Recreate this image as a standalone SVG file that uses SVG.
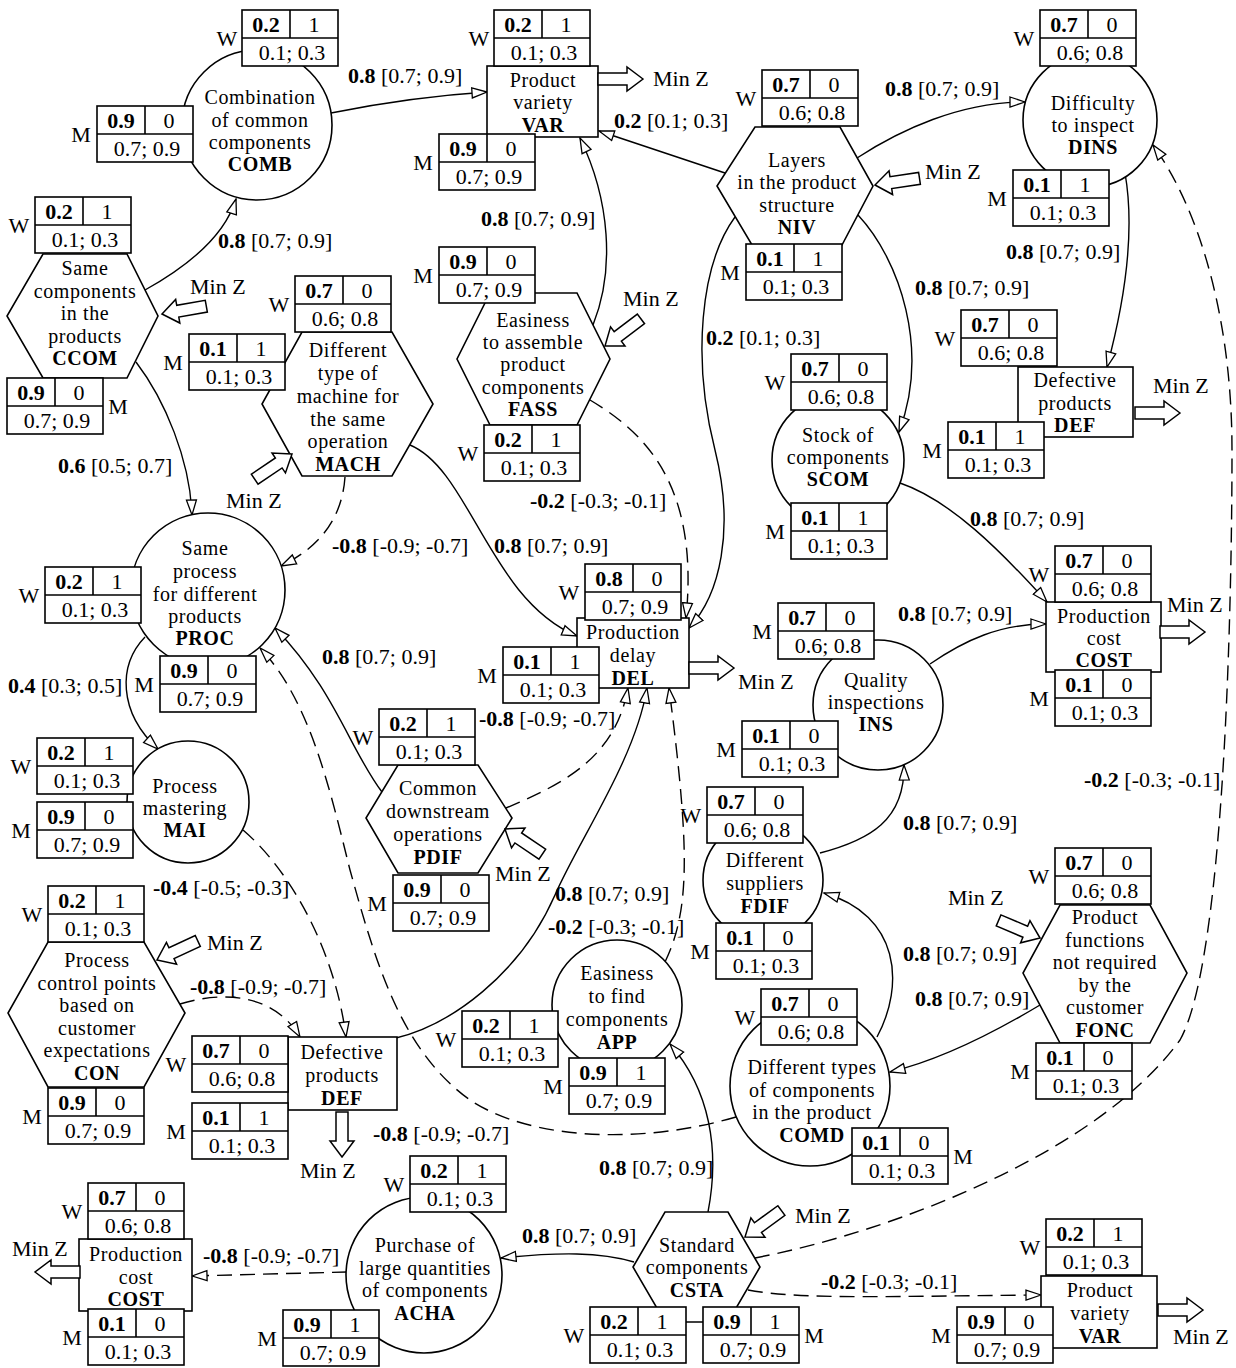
<svg xmlns="http://www.w3.org/2000/svg" width="1236" height="1368" viewBox="0 0 1236 1368">
<defs>
<style>
text{font-family:"Liberation Serif","Times New Roman",serif;font-size:22px;text-anchor:middle;dominant-baseline:central;fill:#000}
.n text{font-size:20px;letter-spacing:0.6px}
.b{font-weight:bold}
.s{text-anchor:start}
.sh{fill:#fff;stroke:#000;stroke-width:1.6}
.t rect{fill:#fff;stroke:#000;stroke-width:1.6}
.t path{fill:none;stroke:#000;stroke-width:1.6}
.c{fill:none;stroke:#000;stroke-width:1.4;marker-end:url(#ah)}
.d{stroke-dasharray:15 8}
.mz{fill:#fff;stroke:#000;stroke-width:1.5}
</style>
<marker id="ah" markerWidth="17" markerHeight="13" refX="16" refY="6.5" orient="auto" markerUnits="userSpaceOnUse"><path d="M1,1.5 L16,6.5 L1,11.5 Z" fill="#fff" stroke="#000" stroke-width="1.3" stroke-dasharray="none"/></marker>
<path id="blk" d="M0,0 L-16,-12 L-16,-6 L-45,-6 L-45,6 L-16,6 L-16,12 Z"/>
</defs>
<rect width="1236" height="1368" fill="#fff"/>

<g id="connectors">
<path class="c" d="M145,290 C190,265 225,235 236,199"/>
<path class="c" d="M331,113 Q410,97 487,92"/>
<path class="c" d="M136,362 C165,400 190,460 192,515"/>
<path class="c d" d="M345,477 C342,520 318,548 281,566"/>
<path class="c" d="M410,445 C470,470 490,600 577,636"/>
<path class="c" d="M593,325 C615,270 610,200 580,138"/>
<path class="c d" d="M590,400 C640,430 700,480 686,618"/>
<path class="c" d="M725,173 L599,131"/>
<path class="c" d="M735,217 C700,265 692,360 715,450 C735,530 720,595 689,628"/>
<path class="c" d="M857,158 C900,130 960,102 1025,102"/>
<path class="c" d="M858,215 C900,260 930,350 899,432"/>
<path class="c" d="M1125,173 C1135,230 1125,300 1107,367"/>
<path class="c" d="M900,483 C950,500 1000,550 1047,602"/>
<path class="c" d="M930,664 C965,640 1000,624 1046,624"/>
<path class="c" d="M820,853 C870,840 905,820 904,765"/>
<path class="c" d="M877,1037 C905,985 900,915 824,893"/>
<path class="c" d="M1040,1005 C990,1035 940,1060 890,1072"/>
<path class="c" d="M708,1212 C720,1150 710,1090 670,1044"/>
<path class="c" d="M634,1262 C600,1252 560,1252 501,1258"/>
<path class="c d" d="M347,1272 L192,1276"/>
<path class="c d" d="M748,1290 C800,1300 900,1296 1041,1295"/>
<path class="c d" d="M755,1258 C900,1230 1100,1150 1180,1040 C1225,960 1232,600 1232,450 C1232,320 1200,210 1153,145"/>
<path class="c d" d="M665,962 C690,910 690,850 669,688"/>
<path class="c" d="M396,1038 C450,1025 520,975 555,895 C580,838 635,760 647,688"/>
<path class="c d" d="M736,1117 C640,1145 530,1140 470,1100 C400,1050 375,960 350,870 C330,790 310,700 260,648"/>
<path class="c d" d="M180,1004 C225,990 275,995 300,1037"/>
<path class="c d" d="M243,830 C290,870 335,950 346,1037"/>
<path class="c" d="M145,637 C118,665 118,712 158,749"/>
<path class="c" d="M382,792 C350,750 335,690 275,628"/>
<path class="c d" d="M506,808 C560,785 615,760 628,688"/>

<text class="s" x="218" y="240"><tspan class="b">0.8</tspan> [0.7; 0.9]</text>
<text class="s" x="348" y="75"><tspan class="b">0.8</tspan> [0.7; 0.9]</text>
<text class="s" x="58" y="465"><tspan class="b">0.6</tspan> [0.5; 0.7]</text>
<text class="s" x="332" y="545"><tspan class="b">-0.8</tspan> [-0.9; -0.7]</text>
<text class="s" x="494" y="545"><tspan class="b">0.8</tspan> [0.7; 0.9]</text>
<text class="s" x="481" y="218"><tspan class="b">0.8</tspan> [0.7; 0.9]</text>
<text class="s" x="530" y="500"><tspan class="b">-0.2</tspan> [-0.3; -0.1]</text>
<text class="s" x="614" y="120"><tspan class="b">0.2</tspan> [0.1; 0.3]</text>
<text class="s" x="706" y="337"><tspan class="b">0.2</tspan> [0.1; 0.3]</text>
<text class="s" x="885" y="88"><tspan class="b">0.8</tspan> [0.7; 0.9]</text>
<text class="s" x="915" y="287"><tspan class="b">0.8</tspan> [0.7; 0.9]</text>
<text class="s" x="1006" y="251"><tspan class="b">0.8</tspan> [0.7; 0.9]</text>
<text class="s" x="970" y="518"><tspan class="b">0.8</tspan> [0.7; 0.9]</text>
<text class="s" x="898" y="613"><tspan class="b">0.8</tspan> [0.7; 0.9]</text>
<text class="s" x="903" y="822"><tspan class="b">0.8</tspan> [0.7; 0.9]</text>
<text class="s" x="903" y="953"><tspan class="b">0.8</tspan> [0.7; 0.9]</text>
<text class="s" x="915" y="998"><tspan class="b">0.8</tspan> [0.7; 0.9]</text>
<text class="s" x="599" y="1167"><tspan class="b">0.8</tspan> [0.7; 0.9]</text>
<text class="s" x="522" y="1235"><tspan class="b">0.8</tspan> [0.7; 0.9]</text>
<text class="s" x="203" y="1255"><tspan class="b">-0.8</tspan> [-0.9; -0.7]</text>
<text class="s" x="821" y="1281"><tspan class="b">-0.2</tspan> [-0.3; -0.1]</text>
<text class="s" x="1084" y="779"><tspan class="b">-0.2</tspan> [-0.3; -0.1]</text>
<text class="s" x="548" y="926"><tspan class="b">-0.2</tspan> [-0.3; -0.1]</text>
<text class="s" x="555" y="893"><tspan class="b">0.8</tspan> [0.7; 0.9]</text>
<text class="s" x="373" y="1133"><tspan class="b">-0.8</tspan> [-0.9; -0.7]</text>
<text class="s" x="190" y="986"><tspan class="b">-0.8</tspan> [-0.9; -0.7]</text>
<text class="s" x="153" y="887"><tspan class="b">-0.4</tspan> [-0.5; -0.3]</text>
<text class="s" x="8" y="685"><tspan class="b">0.4</tspan> [0.3; 0.5]</text>
<text class="s" x="322" y="656"><tspan class="b">0.8</tspan> [0.7; 0.9]</text>
<text class="s" x="479" y="718"><tspan class="b">-0.8</tspan> [-0.9; -0.7]</text>
</g>

<g id="node-COMB">
<circle class="sh" cx="257" cy="125" r="75"/>
<g class="n"><text x="260" y="97">Combination</text><text x="260" y="120">of common</text><text x="260" y="142">components</text><text x="260" y="164" class="b">COMB</text></g>
<g class="t" transform="translate(242,10)"><rect width="96" height="56"/><path d="M0,28H96M48,0V28"/><text x="24" y="14" class="b">0.2</text><text x="72" y="14">1</text><text x="50" y="42">0.1; 0.3</text></g><text x="227" y="38">W</text>
<g class="t" transform="translate(97,106)"><rect width="96" height="56"/><path d="M0,28H96M48,0V28"/><text x="24" y="14" class="b">0.9</text><text x="72" y="14">0</text><text x="50" y="42">0.7; 0.9</text></g><text x="81" y="134">M</text>
</g>

<g id="node-VAR">
<rect class="sh" x="487" y="66" width="111" height="71"/>
<g class="n"><text x="543" y="80">Product</text><text x="543" y="102">variety</text><text x="543" y="125" class="b">VAR</text></g>
<use href="#blk" class="mz" transform="translate(643,79)"/><text class="s" x="653" y="78">Min Z</text>
<g class="t" transform="translate(494,10)"><rect width="96" height="56"/><path d="M0,28H96M48,0V28"/><text x="24" y="14" class="b">0.2</text><text x="72" y="14">1</text><text x="50" y="42">0.1; 0.3</text></g><text x="479" y="38">W</text>
<g class="t" transform="translate(439,134)"><rect width="96" height="56"/><path d="M0,28H96M48,0V28"/><text x="24" y="14" class="b">0.9</text><text x="72" y="14">0</text><text x="50" y="42">0.7; 0.9</text></g><text x="423" y="162">M</text>
</g>

<g id="node-NIV">
<polygon class="sh" points="755,127 840,127 873,186 842,245 752,245 717,186"/>
<g class="n"><text x="797" y="160">Layers</text><text x="797" y="182">in the product</text><text x="797" y="205">structure</text><text x="797" y="227" class="b">NIV</text></g>
<use href="#blk" class="mz" transform="translate(875,185) rotate(171.5)"/><text class="s" x="925" y="171">Min Z</text>
<g class="t" transform="translate(762,70)"><rect width="96" height="56"/><path d="M0,28H96M48,0V28"/><text x="24" y="14" class="b">0.7</text><text x="72" y="14">0</text><text x="50" y="42">0.6; 0.8</text></g><text x="746" y="98">W</text>
<g class="t" transform="translate(746,244)"><rect width="96" height="56"/><path d="M0,28H96M48,0V28"/><text x="24" y="14" class="b">0.1</text><text x="72" y="14">1</text><text x="50" y="42">0.1; 0.3</text></g><text x="730" y="272">M</text>
</g>

<g id="node-DINS">
<circle class="sh" cx="1090" cy="120" r="67"/>
<g class="n"><text x="1093" y="103">Difficulty</text><text x="1093" y="125">to inspect</text><text x="1093" y="147" class="b">DINS</text></g>
<g class="t" transform="translate(1040,10)"><rect width="96" height="56"/><path d="M0,28H96M48,0V28"/><text x="24" y="14" class="b">0.7</text><text x="72" y="14">0</text><text x="50" y="42">0.6; 0.8</text></g><text x="1024" y="38">W</text>
<g class="t" transform="translate(1013,170)"><rect width="96" height="56"/><path d="M0,28H96M48,0V28"/><text x="24" y="14" class="b">0.1</text><text x="72" y="14">1</text><text x="50" y="42">0.1; 0.3</text></g><text x="997" y="198">M</text>
</g>

<g id="node-CCOM">
<polygon class="sh" points="43,254 127,254 158,316 127,378 43,378 7,316"/>
<g class="n"><text x="85" y="268">Same</text><text x="85" y="291">components</text><text x="85" y="313">in the</text><text x="85" y="336">products</text><text x="85" y="358" class="b">CCOM</text></g>
<use href="#blk" class="mz" transform="translate(162,314) rotate(170)"/><text class="s" x="190" y="286">Min Z</text>
<g class="t" transform="translate(35,197)"><rect width="96" height="56"/><path d="M0,28H96M48,0V28"/><text x="24" y="14" class="b">0.2</text><text x="72" y="14">1</text><text x="50" y="42">0.1; 0.3</text></g><text x="19" y="225">W</text>
<g class="t" transform="translate(7,378)"><rect width="96" height="56"/><path d="M0,28H96M48,0V28"/><text x="24" y="14" class="b">0.9</text><text x="72" y="14">0</text><text x="50" y="42">0.7; 0.9</text></g><text x="118" y="406">M</text>
</g>

<g id="node-MACH">
<polygon class="sh" points="302,332 392,332 433,404 392,476 302,476 262,404"/>
<g class="n"><text x="348" y="350">Different</text><text x="348" y="373">type of</text><text x="348" y="396">machine for</text><text x="348" y="419">the same</text><text x="348" y="441">operation</text><text x="348" y="464" class="b">MACH</text></g>
<use href="#blk" class="mz" transform="translate(292,454) rotate(-34)"/><text class="s" x="226" y="500">Min Z</text>
<g class="t" transform="translate(295,276)"><rect width="96" height="56"/><path d="M0,28H96M48,0V28"/><text x="24" y="14" class="b">0.7</text><text x="72" y="14">0</text><text x="50" y="42">0.6; 0.8</text></g><text x="279" y="304">W</text>
<g class="t" transform="translate(189,334)"><rect width="96" height="56"/><path d="M0,28H96M48,0V28"/><text x="24" y="14" class="b">0.1</text><text x="72" y="14">1</text><text x="50" y="42">0.1; 0.3</text></g><text x="173" y="362">M</text>
</g>

<g id="node-FASS">
<polygon class="sh" points="490,293 577,293 610,359 577,425 490,425 457,359"/>
<g class="n"><text x="533" y="320">Easiness</text><text x="533" y="342">to assemble</text><text x="533" y="364">product</text><text x="533" y="387">components</text><text x="533" y="409" class="b">FASS</text></g>
<use href="#blk" class="mz" transform="translate(605,346) rotate(143)"/><text class="s" x="623" y="298">Min Z</text>
<g class="t" transform="translate(439,247)"><rect width="96" height="56"/><path d="M0,28H96M48,0V28"/><text x="24" y="14" class="b">0.9</text><text x="72" y="14">0</text><text x="50" y="42">0.7; 0.9</text></g><text x="423" y="275">M</text>
<g class="t" transform="translate(484,425)"><rect width="96" height="56"/><path d="M0,28H96M48,0V28"/><text x="24" y="14" class="b">0.2</text><text x="72" y="14">1</text><text x="50" y="42">0.1; 0.3</text></g><text x="468" y="453">W</text>
</g>

<g id="node-DEF-right">
<rect class="sh" x="1018" y="367" width="115" height="70"/>
<g class="n"><text x="1075" y="380">Defective</text><text x="1075" y="403">products</text><text x="1075" y="425" class="b">DEF</text></g>
<use href="#blk" class="mz" transform="translate(1180,413)"/><text class="s" x="1153" y="385">Min Z</text>
<g class="t" transform="translate(961,310)"><rect width="96" height="56"/><path d="M0,28H96M48,0V28"/><text x="24" y="14" class="b">0.7</text><text x="72" y="14">0</text><text x="50" y="42">0.6; 0.8</text></g><text x="945" y="338">W</text>
<g class="t" transform="translate(948,422)"><rect width="96" height="56"/><path d="M0,28H96M48,0V28"/><text x="24" y="14" class="b">0.1</text><text x="72" y="14">1</text><text x="50" y="42">0.1; 0.3</text></g><text x="932" y="450">M</text>
</g>

<g id="node-SCOM">
<circle class="sh" cx="838" cy="460" r="66"/>
<g class="n"><text x="838" y="435">Stock of</text><text x="838" y="457">components</text><text x="838" y="479" class="b">SCOM</text></g>
<g class="t" transform="translate(791,354)"><rect width="96" height="56"/><path d="M0,28H96M48,0V28"/><text x="24" y="14" class="b">0.7</text><text x="72" y="14">0</text><text x="50" y="42">0.6; 0.8</text></g><text x="775" y="382">W</text>
<g class="t" transform="translate(791,503)"><rect width="96" height="56"/><path d="M0,28H96M48,0V28"/><text x="24" y="14" class="b">0.1</text><text x="72" y="14">1</text><text x="50" y="42">0.1; 0.3</text></g><text x="775" y="531">M</text>
</g>

<g id="node-PROC">
<circle class="sh" cx="208" cy="590" r="77"/>
<g class="n"><text x="205" y="548">Same</text><text x="205" y="571">process</text><text x="205" y="594">for different</text><text x="205" y="616">products</text><text x="205" y="638" class="b">PROC</text></g>
<g class="t" transform="translate(45,567)"><rect width="96" height="56"/><path d="M0,28H96M48,0V28"/><text x="24" y="14" class="b">0.2</text><text x="72" y="14">1</text><text x="50" y="42">0.1; 0.3</text></g><text x="29" y="595">W</text>
<g class="t" transform="translate(160,656)"><rect width="96" height="56"/><path d="M0,28H96M48,0V28"/><text x="24" y="14" class="b">0.9</text><text x="72" y="14">0</text><text x="50" y="42">0.7; 0.9</text></g><text x="144" y="684">M</text>
</g>

<g id="node-DEL">
<rect class="sh" x="577" y="618" width="112" height="70"/>
<g class="n"><text x="633" y="632">Production</text><text x="633" y="655">delay</text><text x="633" y="678" class="b">DEL</text></g>
<use href="#blk" class="mz" transform="translate(734,668)"/><text class="s" x="738" y="681">Min Z</text>
<g class="t" transform="translate(585,564)"><rect width="96" height="56"/><path d="M0,28H96M48,0V28"/><text x="24" y="14" class="b">0.8</text><text x="72" y="14">0</text><text x="50" y="42">0.7; 0.9</text></g><text x="569" y="592">W</text>
<g class="t" transform="translate(503,647)"><rect width="96" height="56"/><path d="M0,28H96M48,0V28"/><text x="24" y="14" class="b">0.1</text><text x="72" y="14">1</text><text x="50" y="42">0.1; 0.3</text></g><text x="487" y="675">M</text>
</g>

<g id="node-COST-right">
<rect class="sh" x="1046" y="602" width="115" height="70"/>
<g class="n"><text x="1104" y="616">Production</text><text x="1104" y="638">cost</text><text x="1104" y="660" class="b">COST</text></g>
<use href="#blk" class="mz" transform="translate(1205,632)"/><text class="s" x="1167" y="604">Min Z</text>
<g class="t" transform="translate(1055,546)"><rect width="96" height="56"/><path d="M0,28H96M48,0V28"/><text x="24" y="14" class="b">0.7</text><text x="72" y="14">0</text><text x="50" y="42">0.6; 0.8</text></g><text x="1039" y="574">W</text>
<g class="t" transform="translate(1055,670)"><rect width="96" height="56"/><path d="M0,28H96M48,0V28"/><text x="24" y="14" class="b">0.1</text><text x="72" y="14">0</text><text x="50" y="42">0.1; 0.3</text></g><text x="1039" y="698">M</text>
</g>

<g id="node-INS">
<circle class="sh" cx="878" cy="705" r="65"/>
<g class="n"><text x="876" y="680">Quality</text><text x="876" y="702">inspections</text><text x="876" y="724" class="b">INS</text></g>
<g class="t" transform="translate(778,603)"><rect width="96" height="56"/><path d="M0,28H96M48,0V28"/><text x="24" y="14" class="b">0.7</text><text x="72" y="14">0</text><text x="50" y="42">0.6; 0.8</text></g><text x="762" y="631">M</text>
<g class="t" transform="translate(742,721)"><rect width="96" height="56"/><path d="M0,28H96M48,0V28"/><text x="24" y="14" class="b">0.1</text><text x="72" y="14">0</text><text x="50" y="42">0.1; 0.3</text></g><text x="726" y="749">M</text>
</g>

<g id="node-MAI">
<circle class="sh" cx="188" cy="802" r="61"/>
<g class="n"><text x="185" y="786">Process</text><text x="185" y="808">mastering</text><text x="185" y="830" class="b">MAI</text></g>
<g class="t" transform="translate(37,738)"><rect width="96" height="56"/><path d="M0,28H96M48,0V28"/><text x="24" y="14" class="b">0.2</text><text x="72" y="14">1</text><text x="50" y="42">0.1; 0.3</text></g><text x="21" y="766">W</text>
<g class="t" transform="translate(37,802)"><rect width="96" height="56"/><path d="M0,28H96M48,0V28"/><text x="24" y="14" class="b">0.9</text><text x="72" y="14">0</text><text x="50" y="42">0.7; 0.9</text></g><text x="21" y="830">M</text>
</g>

<g id="node-PDIF">
<polygon class="sh" points="398,765 478,765 512,818 478,873 398,873 366,818"/>
<g class="n"><text x="438" y="788">Common</text><text x="438" y="811">downstream</text><text x="438" y="834">operations</text><text x="438" y="857" class="b">PDIF</text></g>
<use href="#blk" class="mz" transform="translate(505,829) rotate(-146)"/><text class="s" x="495" y="873">Min Z</text>
<g class="t" transform="translate(379,709)"><rect width="96" height="56"/><path d="M0,28H96M48,0V28"/><text x="24" y="14" class="b">0.2</text><text x="72" y="14">1</text><text x="50" y="42">0.1; 0.3</text></g><text x="363" y="737">W</text>
<g class="t" transform="translate(393,875)"><rect width="96" height="56"/><path d="M0,28H96M48,0V28"/><text x="24" y="14" class="b">0.9</text><text x="72" y="14">0</text><text x="50" y="42">0.7; 0.9</text></g><text x="377" y="903">M</text>
</g>

<g id="node-FDIF">
<circle class="sh" cx="763" cy="880" r="60"/>
<g class="n"><text x="765" y="860">Different</text><text x="765" y="883">suppliers</text><text x="765" y="906" class="b">FDIF</text></g>
<g class="t" transform="translate(707,787)"><rect width="96" height="56"/><path d="M0,28H96M48,0V28"/><text x="24" y="14" class="b">0.7</text><text x="72" y="14">0</text><text x="50" y="42">0.6; 0.8</text></g><text x="691" y="815">W</text>
<g class="t" transform="translate(716,923)"><rect width="96" height="56"/><path d="M0,28H96M48,0V28"/><text x="24" y="14" class="b">0.1</text><text x="72" y="14">0</text><text x="50" y="42">0.1; 0.3</text></g><text x="700" y="951">M</text>
</g>

<g id="node-FONC">
<polygon class="sh" points="1060,905 1150,905 1187,973 1150,1043 1060,1043 1023,973"/>
<g class="n"><text x="1105" y="917">Product</text><text x="1105" y="940">functions</text><text x="1105" y="962">not required</text><text x="1105" y="985">by the</text><text x="1105" y="1007">customer</text><text x="1105" y="1030" class="b">FONC</text></g>
<use href="#blk" class="mz" transform="translate(1040,938) rotate(23)"/><text class="s" x="948" y="897">Min Z</text>
<g class="t" transform="translate(1055,848)"><rect width="96" height="56"/><path d="M0,28H96M48,0V28"/><text x="24" y="14" class="b">0.7</text><text x="72" y="14">0</text><text x="50" y="42">0.6; 0.8</text></g><text x="1039" y="876">W</text>
<g class="t" transform="translate(1036,1043)"><rect width="96" height="56"/><path d="M0,28H96M48,0V28"/><text x="24" y="14" class="b">0.1</text><text x="72" y="14">0</text><text x="50" y="42">0.1; 0.3</text></g><text x="1020" y="1071">M</text>
</g>

<g id="node-CON">
<polygon class="sh" points="48,942 144,942 185,1013 144,1087 48,1087 8,1013"/>
<g class="n"><text x="97" y="960">Process</text><text x="97" y="983">control points</text><text x="97" y="1005">based on</text><text x="97" y="1028">customer</text><text x="97" y="1050">expectations</text><text x="97" y="1073" class="b">CON</text></g>
<use href="#blk" class="mz" transform="translate(157,960) rotate(155)"/><text class="s" x="207" y="942">Min Z</text>
<g class="t" transform="translate(48,886)"><rect width="96" height="56"/><path d="M0,28H96M48,0V28"/><text x="24" y="14" class="b">0.2</text><text x="72" y="14">1</text><text x="50" y="42">0.1; 0.3</text></g><text x="32" y="914">W</text>
<g class="t" transform="translate(48,1088)"><rect width="96" height="56"/><path d="M0,28H96M48,0V28"/><text x="24" y="14" class="b">0.9</text><text x="72" y="14">0</text><text x="50" y="42">0.7; 0.9</text></g><text x="32" y="1116">M</text>
</g>

<g id="node-APP">
<circle class="sh" cx="617" cy="1005" r="65"/>
<g class="n"><text x="617" y="973">Easiness</text><text x="617" y="996">to find</text><text x="617" y="1019">components</text><text x="617" y="1042" class="b">APP</text></g>
<g class="t" transform="translate(462,1011)"><rect width="96" height="56"/><path d="M0,28H96M48,0V28"/><text x="24" y="14" class="b">0.2</text><text x="72" y="14">1</text><text x="50" y="42">0.1; 0.3</text></g><text x="446" y="1039">W</text>
<g class="t" transform="translate(569,1058)"><rect width="96" height="56"/><path d="M0,28H96M48,0V28"/><text x="24" y="14" class="b">0.9</text><text x="72" y="14">1</text><text x="50" y="42">0.7; 0.9</text></g><text x="553" y="1086">M</text>
</g>

<g id="node-COMD">
<circle class="sh" cx="810" cy="1086" r="80"/>
<g class="n"><text x="812" y="1067">Different types</text><text x="812" y="1090">of components</text><text x="812" y="1112">in the product</text><text x="812" y="1135" class="b">COMD</text></g>
<g class="t" transform="translate(761,989)"><rect width="96" height="56"/><path d="M0,28H96M48,0V28"/><text x="24" y="14" class="b">0.7</text><text x="72" y="14">0</text><text x="50" y="42">0.6; 0.8</text></g><text x="745" y="1017">W</text>
<g class="t" transform="translate(852,1128)"><rect width="96" height="56"/><path d="M0,28H96M48,0V28"/><text x="24" y="14" class="b">0.1</text><text x="72" y="14">0</text><text x="50" y="42">0.1; 0.3</text></g><text x="963" y="1156">M</text>
</g>

<g id="node-DEF-bottom">
<rect class="sh" x="288" y="1037" width="109" height="73"/>
<g class="n"><text x="342" y="1052">Defective</text><text x="342" y="1075">products</text><text x="342" y="1098" class="b">DEF</text></g>
<use href="#blk" class="mz" transform="translate(342,1157) rotate(90)"/><text class="s" x="300" y="1170">Min Z</text>
<g class="t" transform="translate(192,1036)"><rect width="96" height="56"/><path d="M0,28H96M48,0V28"/><text x="24" y="14" class="b">0.7</text><text x="72" y="14">0</text><text x="50" y="42">0.6; 0.8</text></g><text x="176" y="1064">W</text>
<g class="t" transform="translate(192,1103)"><rect width="96" height="56"/><path d="M0,28H96M48,0V28"/><text x="24" y="14" class="b">0.1</text><text x="72" y="14">1</text><text x="50" y="42">0.1; 0.3</text></g><text x="176" y="1131">M</text>
</g>

<g id="node-ACHA">
<circle class="sh" cx="424" cy="1275" r="78"/>
<g class="n"><text x="425" y="1245">Purchase of</text><text x="425" y="1268">large quantities</text><text x="425" y="1290">of components</text><text x="425" y="1313" class="b">ACHA</text></g>
<g class="t" transform="translate(410,1156)"><rect width="96" height="56"/><path d="M0,28H96M48,0V28"/><text x="24" y="14" class="b">0.2</text><text x="72" y="14">1</text><text x="50" y="42">0.1; 0.3</text></g><text x="394" y="1184">W</text>
<g class="t" transform="translate(283,1310)"><rect width="96" height="56"/><path d="M0,28H96M48,0V28"/><text x="24" y="14" class="b">0.9</text><text x="72" y="14">1</text><text x="50" y="42">0.7; 0.9</text></g><text x="267" y="1338">M</text>
</g>

<g id="node-COST-bottom">
<rect class="sh" x="79" y="1239" width="113" height="72"/>
<g class="n"><text x="136" y="1254">Production</text><text x="136" y="1277">cost</text><text x="136" y="1299" class="b">COST</text></g>
<use href="#blk" class="mz" transform="translate(35,1272) rotate(180)"/><text class="s" x="12" y="1248">Min Z</text>
<g class="t" transform="translate(88,1183)"><rect width="96" height="56"/><path d="M0,28H96M48,0V28"/><text x="24" y="14" class="b">0.7</text><text x="72" y="14">0</text><text x="50" y="42">0.6; 0.8</text></g><text x="72" y="1211">W</text>
<g class="t" transform="translate(88,1309)"><rect width="96" height="56"/><path d="M0,28H96M48,0V28"/><text x="24" y="14" class="b">0.1</text><text x="72" y="14">0</text><text x="50" y="42">0.1; 0.3</text></g><text x="72" y="1337">M</text>
</g>

<g id="node-CSTA">
<polygon class="sh" points="665,1212 728,1212 760,1267 728,1322 665,1322 633,1267"/>
<g class="n"><text x="697" y="1245">Standard</text><text x="697" y="1267">components</text><text x="697" y="1290" class="b">CSTA</text></g>
<use href="#blk" class="mz" transform="translate(745,1237) rotate(144)"/><text class="s" x="795" y="1215">Min Z</text>
<g class="t" transform="translate(590,1307)"><rect width="96" height="56"/><path d="M0,28H96M48,0V28"/><text x="24" y="14" class="b">0.2</text><text x="72" y="14">1</text><text x="50" y="42">0.1; 0.3</text></g><text x="574" y="1335">W</text>
<g class="t" transform="translate(703,1307)"><rect width="96" height="56"/><path d="M0,28H96M48,0V28"/><text x="24" y="14" class="b">0.9</text><text x="72" y="14">1</text><text x="50" y="42">0.7; 0.9</text></g><text x="814" y="1335">M</text>
</g>

<g id="node-VAR-bottom">
<rect class="sh" x="1041" y="1276" width="116" height="72"/>
<g class="n"><text x="1100" y="1290">Product</text><text x="1100" y="1313">variety</text><text x="1100" y="1336" class="b">VAR</text></g>
<use href="#blk" class="mz" transform="translate(1203,1310)"/><text class="s" x="1173" y="1336">Min Z</text>
<g class="t" transform="translate(1046,1219)"><rect width="96" height="56"/><path d="M0,28H96M48,0V28"/><text x="24" y="14" class="b">0.2</text><text x="72" y="14">1</text><text x="50" y="42">0.1; 0.3</text></g><text x="1030" y="1247">W</text>
<g class="t" transform="translate(957,1307)"><rect width="96" height="56"/><path d="M0,28H96M48,0V28"/><text x="24" y="14" class="b">0.9</text><text x="72" y="14">0</text><text x="50" y="42">0.7; 0.9</text></g><text x="941" y="1335">M</text>
</g>
</svg>
